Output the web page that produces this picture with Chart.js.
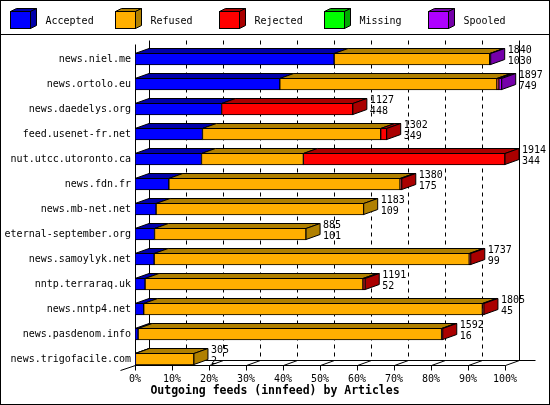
<!DOCTYPE html>
<html>
<head>
<meta charset="utf-8">
<script src="https://cdn.jsdelivr.net/npm/chart.js@4.4.0/dist/chart.umd.min.js"></script>
<style>
  html, body { margin: 0; padding: 0; background: #fff; }
</style>
</head>
<body>
<canvas id="chart" width="550" height="405"></canvas>
<script>
const hosts = [
  'news.niel.me', 'news.ortolo.eu', 'news.daedelys.org', 'feed.usenet-fr.net',
  'nut.utcc.utoronto.ca', 'news.fdn.fr', 'news.mb-net.net', 'eternal-september.org',
  'news.samoylyk.net', 'nntp.terraraq.uk', 'news.nntp4.net', 'news.pasdenom.info',
  'news.trigofacile.com'
];
const offered  = [1840, 1897, 1127, 1302, 1914, 1380, 1183, 885, 1737, 1191, 1805, 1592, 305];
const accepted = [1030, 749, 448, 349, 344, 175, 109, 101, 99, 52, 45, 16, 2];
const refused  = [805, 1123, 0, 922, 527, 1196, 1074, 784, 1630, 1127, 1752, 1570, 303];
const rejected = [0, 10, 679, 31, 1043, 9, 0, 0, 8, 12, 8, 6, 0];
const missing  = [0, 0, 0, 0, 0, 0, 0, 0, 0, 0, 0, 0, 0];
const spooled  = [5, 15, 0, 0, 0, 0, 0, 0, 0, 0, 0, 0, 0];

const seriesNames = ['Accepted', 'Refused', 'Rejected', 'Missing', 'Spooled'];
const pctTicks  = [0, 10, 20, 30, 40, 50, 60, 70, 80, 90, 100];
const pctLabels = ['0%', '10%', '20%', '30%', '40%', '50%', '60%', '70%', '80%', '90%', '100%'];

const frontColors = ['#0000ff', '#ffaf00', '#ff0000', '#00ff00', '#af00ff'];
const darkColors  = ['#0000aa', '#b08000', '#aa0000', '#00aa00', '#7500aa'];

const FONT = '"DejaVu Sans Mono", "Liberation Mono", monospace';
const DX = 14, DY = 5;
const maxOffered = Math.max(...offered);
const series = [accepted, refused, rejected, missing, spooled];

function line(ctx, x1, y1, x2, y2) {
  ctx.beginPath();
  ctx.moveTo(x1, y1);
  ctx.lineTo(x2, y2);
  ctx.stroke();
}

function poly(ctx, pts, fill) {
  ctx.beginPath();
  ctx.moveTo(pts[0][0], pts[0][1]);
  for (let i = 1; i < pts.length; i++) ctx.lineTo(pts[i][0], pts[i][1]);
  ctx.closePath();
  ctx.fillStyle = fill;
  ctx.fill();
  ctx.stroke();
}

const frame3d = {
  id: 'frame3d',
  beforeDraw(chart) {
    const ctx = chart.ctx;
    ctx.save();
    ctx.fillStyle = '#fff';
    ctx.fillRect(0, 0, chart.width, chart.height);
    ctx.restore();
  },
  beforeDatasetsDraw(chart) {
    const { ctx, chartArea: a, scales: { x } } = chart;
    const frontY = Math.floor(a.bottom) - 6 + 0.5;
    const backY = frontY - DY;
    const wallTop = Math.floor(a.top) - 6 + 0.5;
    const x0 = Math.round(x.getPixelForValue(0)) + 0.5;
    const x1 = Math.round(x.getPixelForValue(maxOffered)) + 0.5;
    ctx.save();
    ctx.strokeStyle = '#000';
    ctx.lineWidth = 1;
    // back walls
    line(ctx, x0 + DX, wallTop, x0 + DX, backY);
    line(ctx, x1 + DX, wallTop, x1 + DX, backY);
    // dashed back grid
    ctx.setLineDash([4, 4]);
    x.ticks.forEach((t, i) => {
      if (i === 0 || i === x.ticks.length - 1) return;
      const px = Math.round(x.getPixelForValue(t.value)) + 0.5 + DX;
      line(ctx, px, wallTop, px, backY);
    });
    ctx.setLineDash([]);
    // floor
    line(ctx, x0 + DX, backY, x1 + DX + 16, backY);
    line(ctx, x0, frontY, x1, frontY);
    line(ctx, x0 - 15, frontY + 5, x0, frontY);
    line(ctx, x0, wallTop + 4, x0, frontY + 3);
    x.ticks.forEach(t => {
      const px = Math.round(x.getPixelForValue(t.value)) + 0.5;
      line(ctx, px, frontY, px, frontY + 5);
      line(ctx, px, frontY, px + DX, frontY - DY);
    });
    ctx.restore();
  },
  afterDatasetsDraw(chart) {
    const ctx = chart.ctx;
    ctx.save();
    ctx.strokeStyle = '#000';
    ctx.lineWidth = 1;
    hosts.forEach((h, row) => {
      let last = null;
      seriesNames.forEach((n, di) => {
        if (!series[di][row]) return;
        const el = chart.getDatasetMeta(di).data[row];
        const p = el.getProps(['x', 'y', 'base', 'height'], true);
        const top = p.y - p.height / 2 + 0.5;
        poly(ctx, [[p.base, top], [p.x, top], [p.x + DX, top - DY], [p.base + DX, top - DY]], darkColors[di]);
        last = { p, di, top };
      });
      if (!last) return;
      const { p, di, top } = last;
      const bottom = p.y + p.height / 2 - 0.5;
      poly(ctx, [[p.x, top], [p.x + DX, top - DY], [p.x + DX, bottom - DY], [p.x, bottom]], darkColors[di]);
      ctx.fillStyle = '#000';
      ctx.font = '10px ' + FONT;
      ctx.textAlign = 'left';
      ctx.textBaseline = 'middle';
      ctx.fillText(String(offered[row]), p.x + DX + 3, p.y - 8.5);
      ctx.fillText(String(accepted[row]), p.x + DX + 3, p.y + 2.5);
    });
    ctx.restore();
  },
  afterDraw(chart) {
    const ctx = chart.ctx;
    ctx.save();
    ctx.strokeStyle = '#000';
    ctx.lineWidth = 1;
    // legend with little cubes
    chart.data.datasets.forEach((ds, i) => {
      const lx = Math.round(10 + i * 104.5) + 0.5;
      const ly = 11.5, w = 20, hgt = 17, d = 6, e = 3;
      poly(ctx, [[lx, ly], [lx + d, ly - e], [lx + w + d, ly - e], [lx + w, ly]], darkColors[i]);
      poly(ctx, [[lx + w, ly], [lx + w + d, ly - e], [lx + w + d, ly + hgt - e], [lx + w, ly + hgt]], darkColors[i]);
      ctx.fillStyle = frontColors[i];
      ctx.fillRect(lx, ly, w, hgt);
      ctx.strokeRect(lx, ly, w, hgt);
      ctx.fillStyle = '#000';
      ctx.font = '10px ' + FONT;
      ctx.textAlign = 'left';
      ctx.textBaseline = 'middle';
      ctx.fillText(ds.label, lx + 35, 21);
    });
    line(ctx, 0, 34.5, chart.width, 34.5);
    // title
    ctx.fillStyle = '#000';
    ctx.font = 'bold 11.5px ' + FONT;
    ctx.textAlign = 'center';
    ctx.textBaseline = 'middle';
    ctx.fillText('Outgoing feeds (innfeed) by Articles', 275, 391.5);
    // outer border
    ctx.strokeRect(0.5, 0.5, chart.width - 1, chart.height - 1);
    ctx.restore();
  }
};

new Chart(document.getElementById('chart'), {
  type: 'bar',
  data: {
    labels: hosts,
    datasets: seriesNames.map((name, i) => ({
      label: name,
      data: series[i],
      backgroundColor: frontColors[i],
      borderColor: '#000',
      borderWidth: 1,
      borderSkipped: false,
      barThickness: 12,
    })),
  },
  options: {
    indexAxis: 'y',
    responsive: false,
    animation: false,
    devicePixelRatio: 1,
    layout: { padding: { top: 46.5, right: 45, bottom: 0, left: 0 } },
    plugins: {
      legend: { display: false },
      tooltip: { enabled: false },
    },
    scales: {
      x: {
        stacked: true,
        min: 0,
        max: maxOffered,
        afterBuildTicks: s => { s.ticks = pctTicks.map(p => ({ value: p / 100 * maxOffered })); },
        afterFit: s => { s.height = 33.5; },
        grid: { display: false, drawTicks: false },
        border: { display: false },
        ticks: {
          color: '#000',
          font: { family: FONT, size: 10 },
          padding: 2,
          maxRotation: 0,
          autoSkip: false,
          callback: (v, i) => pctLabels[i],
        },
      },
      y: {
        stacked: true,
        afterFit: s => { s.width = 135; },
        grid: { display: false, drawTicks: false },
        border: { display: false },
        ticks: { color: '#000', font: { family: FONT, size: 10 }, padding: 4, autoSkip: false },
      },
    },
  },
  plugins: [frame3d],
});
</script>
</body>
</html>
